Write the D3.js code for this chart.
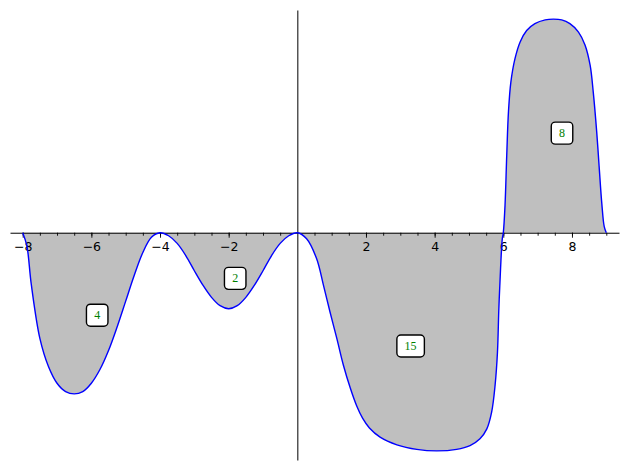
<!DOCTYPE html>
<html><head><meta charset="utf-8">
<script src="https://cdn.jsdelivr.net/npm/d3@7"></script>
<style>body{margin:0;background:#fff}svg{display:block}</style>
</head><body><svg id="c" width="629" height="470"></svg>
<script>
// Curve samples
const xValues = [
  -8, -7.88, -7.75, -7.5, -7.25, -7, -6.75, -6.5, -6.25, -6, -5.75, -5.5, -5.25, -5, -4.75, -4.5, -4.25,
  -4, -3.75, -3.5, -3.25, -3, -2.75, -2.5, -2.25, -2, -1.75, -1.5, -1.25, -1, -0.75, -0.5, -0.25,
  0, 0.27, 0.56, 0.76, 0.95, 1.15, 1.34, 1.54, 1.73, 1.9, 2.1, 2.41, 2.9, 3.48, 4.06, 4.64, 5.03, 5.32, 5.52, 5.66, 5.76, 5.83, 5.87, 5.92, 5.97,
  6, 6.05, 6.1, 6.15, 6.22, 6.34, 6.49, 6.68, 6.92, 7.22, 7.46, 7.7, 7.94, 8.19, 8.38, 8.53, 8.62, 8.72, 8.79, 8.87, 8.94, 9
];
const yValues = [
  0, -0.17, -0.68, -1.39, -1.76, -1.98, -2.09, -2.12, -2.09, -1.98, -1.80, -1.55, -1.24, -0.90, -0.56, -0.26, -0.06,
  0, -0.04, -0.14, -0.30, -0.50, -0.69, -0.85, -0.96, -1.00, -0.96, -0.85, -0.69, -0.50, -0.30, -0.14, -0.04,
  0, -0.08, -0.34, -0.69, -1.04, -1.39, -1.74, -2.04, -2.28, -2.44, -2.57, -2.69, -2.79, -2.85, -2.87, -2.85, -2.80, -2.71, -2.58, -2.36, -2.01, -1.57, -1.00, -0.47, -0.08,
  0, 0.36, 1.02, 1.59, 1.98, 2.29, 2.51, 2.66, 2.75, 2.80, 2.81, 2.80, 2.75, 2.64, 2.47, 2.20, 1.85, 1.33, 0.88, 0.38, 0.08, 0
];
const majorTicks = [-8, -6, -4, -2, 2, 4, 6, 8];
const majorTickLabels = ["\u22128", "\u22126", "\u22124", "\u22122", "2", "4", "6", "8"];
const minorTicks = [-8, -7.5, -7, -6.5, -6, -5.5, -5, -4.5, -4, -3.5, -3, -2.5, -2, -1.5, -1, -0.5,
  0.5, 1, 1.5, 2, 2.5, 3, 3.5, 4, 4.5, 5, 5.5, 6, 6.5, 7, 7.5, 8, 8.5, 9];
const areaLabels = ["4", "2", "15", "8"];
const areaLabelX = [-5.83, -1.81, 3.3, 7.71];
const areaLabelY = [-1.085, -0.6, -1.49, 1.31];

const svg = d3.select("#c");
const x = d3.scaleLinear().domain([-8.37, 9.37]).range([10, 619]);
const y = d3.scaleLinear().domain([-2.99, 2.93]).range([460, 10]);
const pts = xValues.map((v, i) => [v, yValues[i]]);
const interp = d3.curveCatmullRom.alpha(0.5);

// fill
svg.append("path")
  .datum(pts)
  .attr("fill", "#bfbfbf")
  .attr("d", d3.area().curve(interp).x(d => x(d[0])).y0(y(0)).y1(d => y(d[1])));

// x axis (minor)
const y0 = y(0);
const gMinor = svg.append("g").attr("transform", `translate(0,${y0})`)
  .call(d3.axisBottom(x).tickValues(minorTicks).tickSize(3).tickSizeOuter(0).tickFormat(""));
gMinor.select(".domain").attr("stroke", "#000").attr("stroke-width", 1);
gMinor.selectAll(".tick line").attr("stroke", "#000").attr("stroke-width", 0.9);

const gMajor = svg.append("g").attr("transform", `translate(0,${y0})`)
  .call(d3.axisBottom(x).tickValues(majorTicks).tickSize(5).tickPadding(4.5).tickSizeOuter(0)
    .tickFormat((d, i) => majorTickLabels[i]));
gMajor.select(".domain").remove();
gMajor.selectAll(".tick line").attr("stroke", "#000").attr("stroke-width", 0.9);
gMajor.selectAll(".tick text").attr("font-family", "DejaVu Sans").attr("font-size", 12.5).attr("fill", "#000");

// y axis (no ticks)
const gY = svg.append("g").attr("transform", `translate(${x(0)},0)`)
  .call(d3.axisLeft(y).tickValues([]).tickSizeOuter(0));
gY.select(".domain").attr("stroke", "#000").attr("stroke-width", 1);

// curve
svg.append("path")
  .datum(pts)
  .attr("fill", "none")
  .attr("stroke", "#0000ff")
  .attr("stroke-width", 1.4)
  .attr("d", d3.line().curve(interp).x(d => x(d[0])).y(d => y(d[1])));

// area labels
areaLabels.forEach((t, i) => {
  const g = svg.append("g").attr("transform", `translate(${x(areaLabelX[i])},${y(areaLabelY[i])})`);
  const rect = g.append("rect");
  const txt = g.append("text").text(t)
    .attr("text-anchor", "middle")
    .attr("y", 4)
    .attr("font-family", "Liberation Serif")
    .attr("font-size", 12)
    .attr("fill", "#008000");
  const w = txt.node().getComputedTextLength() + 15.5;
  const h = 22;
  rect.attr("x", -w / 2).attr("y", -h / 2).attr("width", w).attr("height", h)
    .attr("rx", 4).attr("ry", 4)
    .attr("fill", "#fff").attr("stroke", "#000").attr("stroke-width", 1.4);
});
</script>
</body></html>
